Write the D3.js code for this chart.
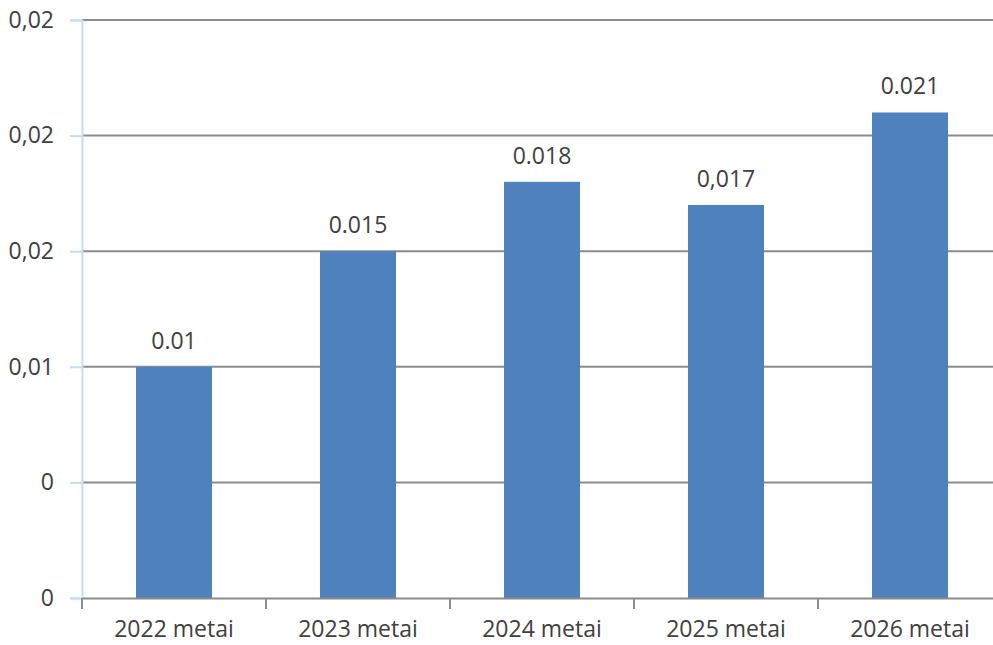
<!DOCTYPE html>
<html>
<head>
<meta charset="utf-8">
<script src="https://cdn.jsdelivr.net/npm/d3@7"></script>
<style>
  body { margin: 0; background: #fff; }
  svg { display: block; font-family: "Open Sans", "Noto Sans", sans-serif; }
</style>
</head>
<body>
<svg id="chart"></svg>
<script>
const categories = ['2022 metai', '2023 metai', '2024 metai', '2025 metai', '2026 metai'];
const values = [0.01, 0.015, 0.018, 0.017, 0.021];
const valueLabels = ['0.01', '0.015', '0.018', '0,017', '0.021'];
const yTicks = [0, 0.005, 0.01, 0.015, 0.02, 0.025];
const yTickLabels = ['0', '0', '0,01', '0,02', '0,02', '0,02'];

const width = 993;
const height = 645;
const margin = { top: 20, right: -9, bottom: 47, left: 82 };
const innerW = width - margin.left - margin.right;
const innerH = height - margin.top - margin.bottom;
const fontSize = 23;

const svg = d3.select('#chart')
    .attr('width', width)
    .attr('height', height);

const g = svg.append('g')
    .attr('transform', `translate(${margin.left},${margin.top})`);

const xCat = d3.scaleBand()
    .domain(categories)
    .range([0, innerW]);

const xBar = d3.scaleBand()
    .domain(categories)
    .range([0, innerW])
    .paddingInner(0.587)
    .paddingOuter(0.2935);

const y = d3.scaleLinear()
    .domain([0, 0.025])
    .range([innerH, 0]);

// gridlines
g.selectAll('.grid')
    .data(yTicks.slice(1))
    .enter()
    .append('line')
    .attr('x1', 0)
    .attr('x2', innerW)
    .attr('y1', d => y(d))
    .attr('y2', d => y(d))
    .attr('stroke', '#8c8c8c')
    .attr('stroke-width', 2);

// bars
g.selectAll('.bar')
    .data(values)
    .enter()
    .append('rect')
    .attr('x', (d, i) => xBar(categories[i]))
    .attr('y', d => y(d))
    .attr('width', xBar.bandwidth())
    .attr('height', d => innerH - y(d))
    .attr('fill', '#4f81bd');

// value labels
g.selectAll('.val')
    .data(values)
    .enter()
    .append('text')
    .attr('x', (d, i) => xBar(categories[i]) + xBar.bandwidth() / 2)
    .attr('y', d => y(d) - 18)
    .attr('text-anchor', 'middle')
    .attr('font-size', fontSize)
    .attr('fill', '#404040')
    .text((d, i) => valueLabels[i]);

// y axis
const yAxis = d3.axisLeft(y)
    .tickValues(yTicks)
    .tickFormat((d, i) => yTickLabels[i])
    .tickSize(12)
    .tickPadding(16);

const yG = g.append('g').call(yAxis);
yG.select('.domain').attr('stroke', '#c6dcf5').attr('stroke-width', 2);
yG.selectAll('.tick line').attr('stroke', '#c6dcf5').attr('stroke-width', 2);
yG.selectAll('.tick text')
    .attr('font-size', fontSize)
    .attr('fill', '#404040')
    .attr('font-family', '"Open Sans", "Noto Sans", sans-serif');

// x axis
const xAxis = d3.axisBottom(xCat)
    .tickSize(0)
    .tickPadding(23);

const xG = g.append('g')
    .attr('transform', `translate(0,${innerH})`)
    .call(xAxis);
xG.select('.domain').attr('stroke', '#8c8c8c').attr('stroke-width', 2);
xG.selectAll('.tick text')
    .attr('font-size', fontSize)
    .attr('fill', '#404040')
    .attr('font-family', '"Open Sans", "Noto Sans", sans-serif');

// category boundary ticks
xG.selectAll('.sep')
    .data(categories)
    .enter()
    .append('line')
    .attr('x1', d => xCat(d))
    .attr('x2', d => xCat(d))
    .attr('y1', 0)
    .attr('y2', 11)
    .attr('stroke', '#8c8c8c')
    .attr('stroke-width', 2);
</script>
</body>
</html>
